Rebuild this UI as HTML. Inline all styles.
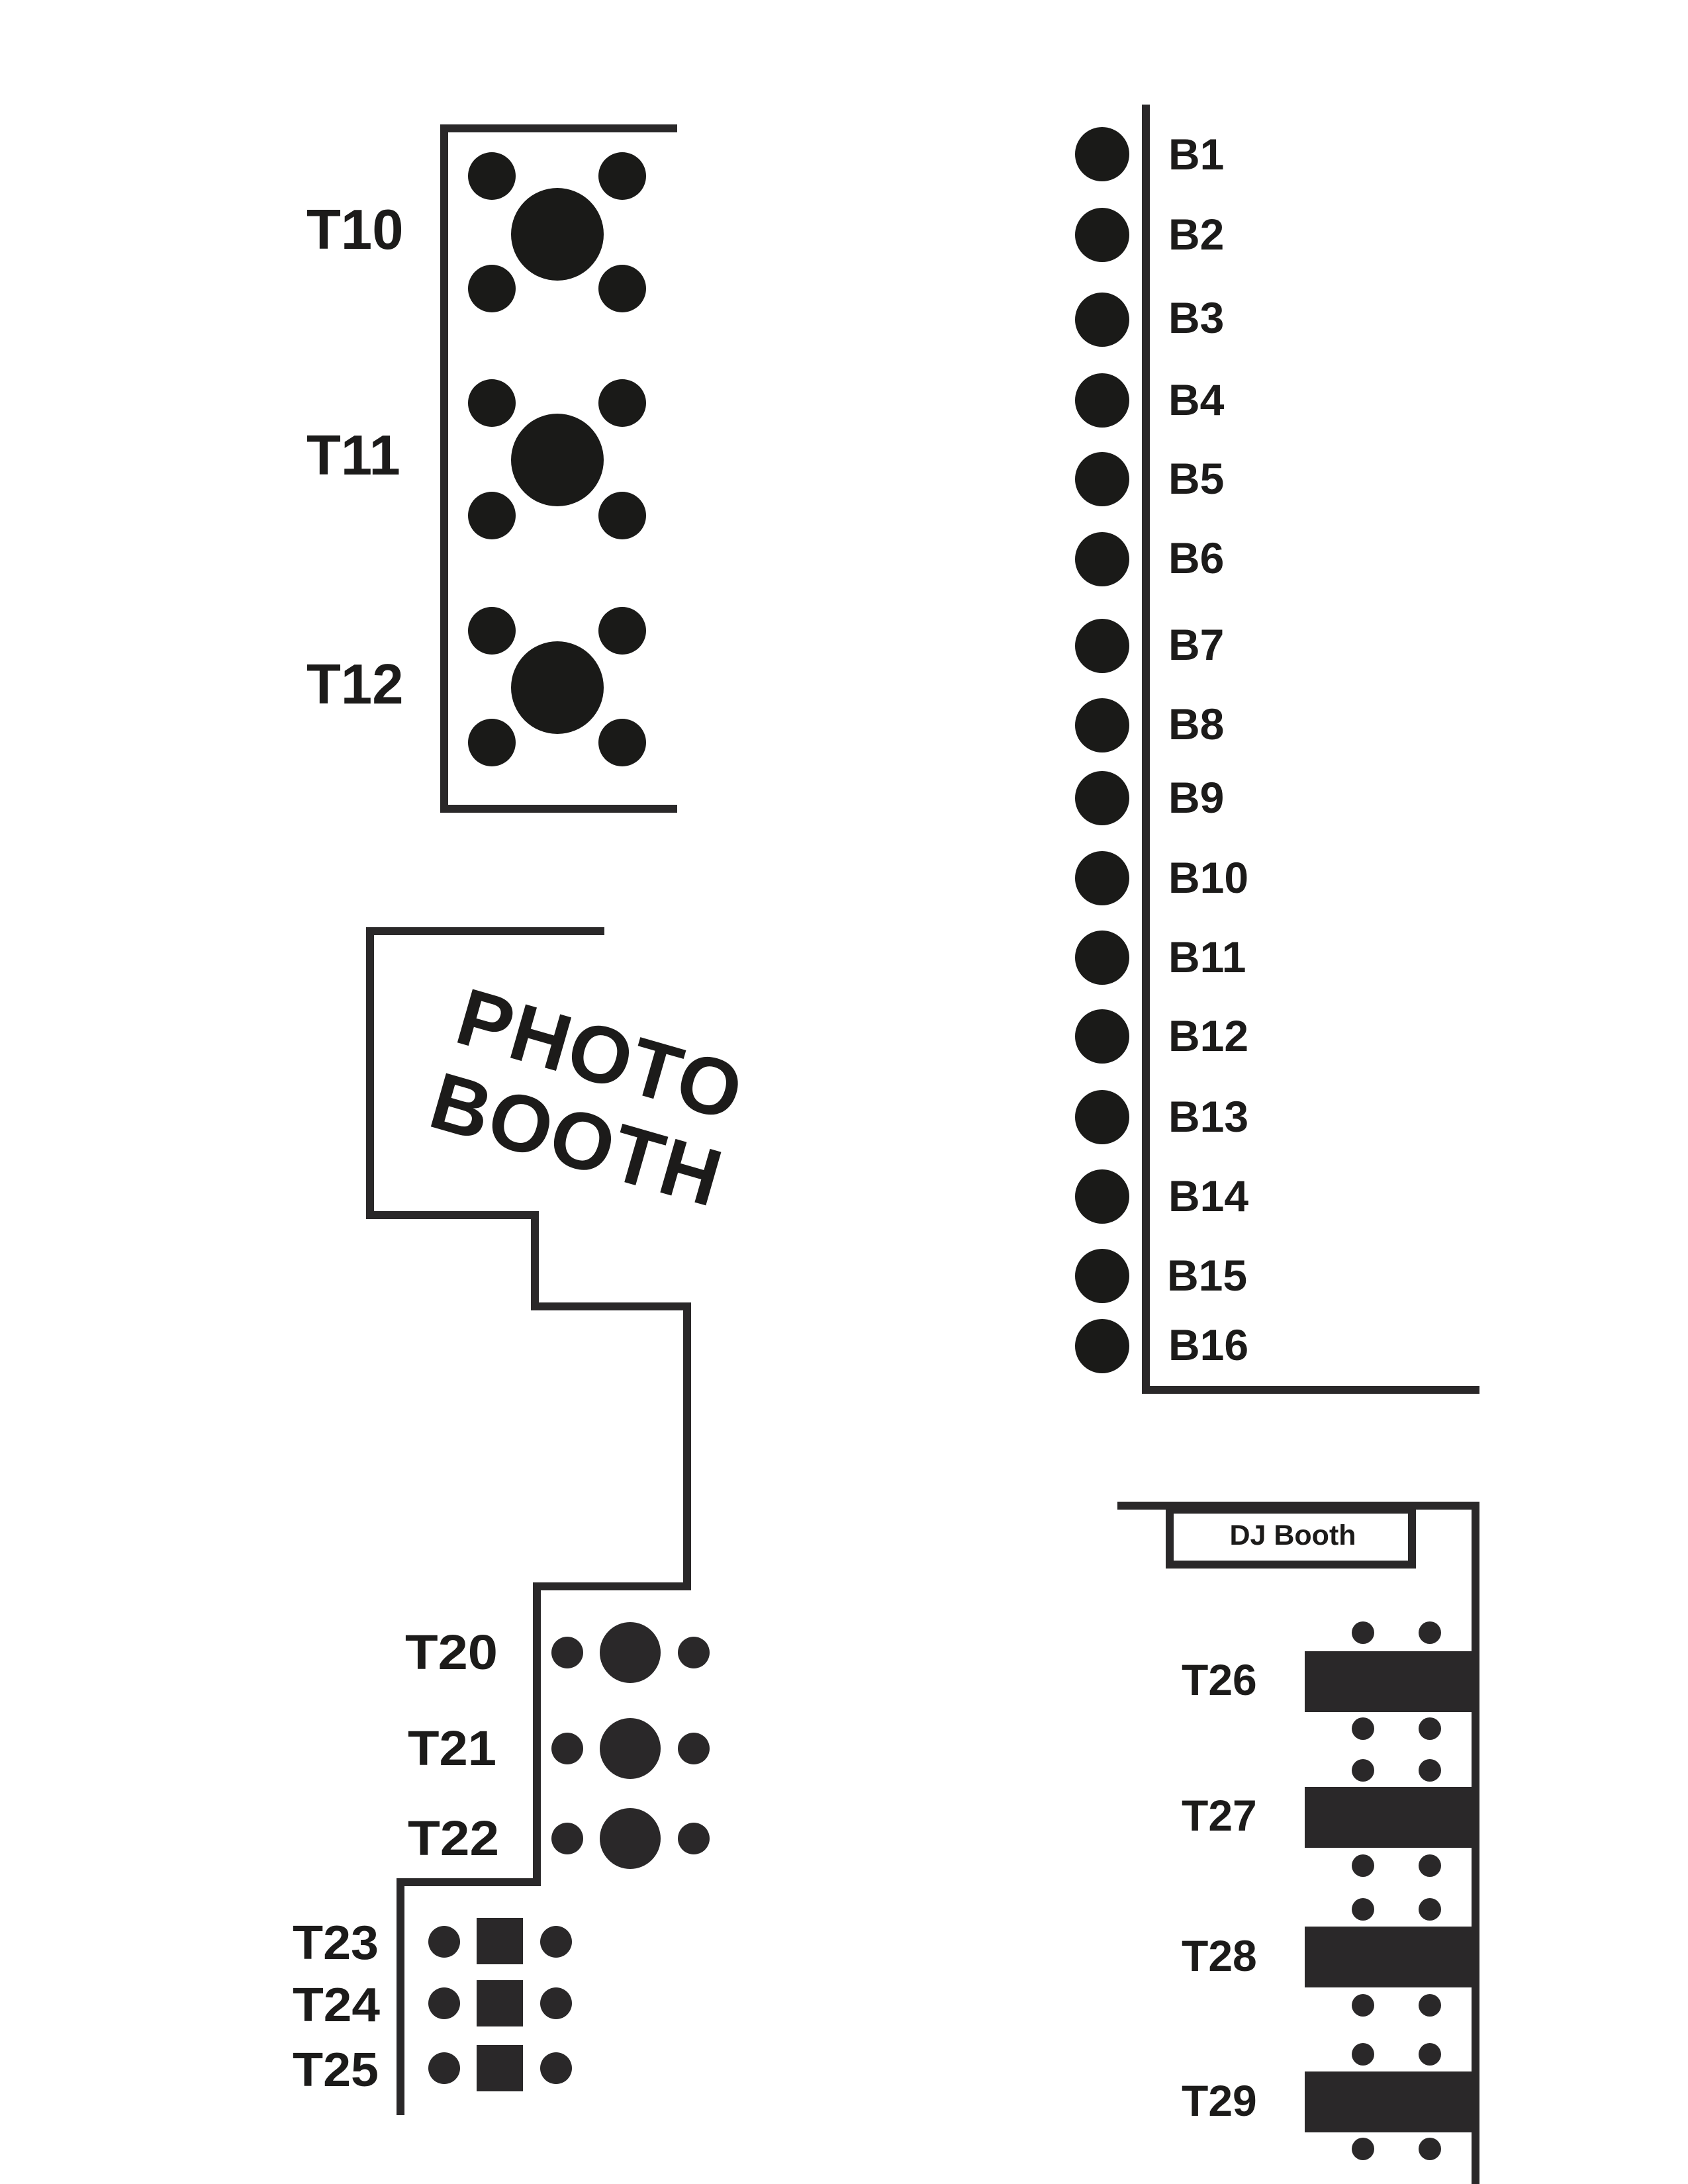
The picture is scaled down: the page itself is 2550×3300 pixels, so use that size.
<!DOCTYPE html>
<html><head><meta charset="utf-8"><style>
html,body{margin:0;padding:0;background:#fff;}
svg{display:block;}
text{font-family:"Liberation Sans",sans-serif;font-weight:bold;fill:#1c1b1a;}
</style></head><body>
<svg width="2550" height="3300" viewBox="0 0 2550 3300" xmlns="http://www.w3.org/2000/svg">
<g fill="none" stroke="#2a2829" stroke-width="12" stroke-linecap="butt">
  <polyline points="1023,194 671,194 671,1222 1023,1222"/>
  <polyline points="1731,158 1731,2100 2235,2100"/>
  <polyline points="913,1407 559,1407 559,1836 808,1836 808,1974 1038,1974 1038,2397 811,2397 811,2844 605,2844 605,3196"/>
  <polyline points="1688,2275 2229,2275 2229,3300"/>
  <rect x="1767" y="2281" width="366" height="83"/>
</g>
<g fill="#1a1a18">
  <circle cx="842" cy="354" r="70"/><circle cx="743" cy="266" r="36"/><circle cx="940" cy="266" r="36"/><circle cx="743" cy="436" r="36"/><circle cx="940" cy="436" r="36"/>
  <circle cx="842" cy="695" r="70"/><circle cx="743" cy="609" r="36"/><circle cx="940" cy="609" r="36"/><circle cx="743" cy="779" r="36"/><circle cx="940" cy="779" r="36"/>
  <circle cx="842" cy="1039" r="70"/><circle cx="743" cy="953" r="36"/><circle cx="940" cy="953" r="36"/><circle cx="743" cy="1122" r="36"/><circle cx="940" cy="1122" r="36"/>
  <circle cx="1665" cy="233" r="41"/><circle cx="1665" cy="355" r="41"/><circle cx="1665" cy="483" r="41"/><circle cx="1665" cy="605" r="41"/>
  <circle cx="1665" cy="724" r="41"/><circle cx="1665" cy="845" r="41"/><circle cx="1665" cy="976" r="41"/><circle cx="1665" cy="1096" r="41"/>
  <circle cx="1665" cy="1206" r="41"/><circle cx="1665" cy="1327" r="41"/><circle cx="1665" cy="1447" r="41"/><circle cx="1665" cy="1566" r="41"/>
  <circle cx="1665" cy="1688" r="41"/><circle cx="1665" cy="1808" r="41"/><circle cx="1665" cy="1928" r="41"/><circle cx="1665" cy="2034" r="41"/>
</g>
<g fill="#2a2829">
  <circle cx="857" cy="2497" r="24"/><circle cx="952" cy="2497" r="46"/><circle cx="1048" cy="2497" r="24"/>
  <circle cx="857" cy="2642" r="24"/><circle cx="952" cy="2642" r="46"/><circle cx="1048" cy="2642" r="24"/>
  <circle cx="857" cy="2778" r="24"/><circle cx="952" cy="2778" r="46"/><circle cx="1048" cy="2778" r="24"/>
  <circle cx="671" cy="2934" r="24"/><rect x="720" y="2898" width="70" height="70"/><circle cx="840" cy="2934" r="24"/>
  <circle cx="671" cy="3027" r="24"/><rect x="720" y="2992" width="70" height="70"/><circle cx="840" cy="3027" r="24"/>
  <circle cx="671" cy="3125" r="24"/><rect x="720" y="3090" width="70" height="70"/><circle cx="840" cy="3125" r="24"/>
  <rect x="1971" y="2495" width="258" height="92"/>
  <rect x="1971" y="2700" width="258" height="92"/>
  <rect x="1971" y="2911" width="258" height="92"/>
  <rect x="1971" y="3130" width="258" height="92"/>
  <circle cx="2059" cy="2467" r="17"/><circle cx="2160" cy="2467" r="17"/>
  <circle cx="2059" cy="2612" r="17"/><circle cx="2160" cy="2612" r="17"/>
  <circle cx="2059" cy="2675" r="17"/><circle cx="2160" cy="2675" r="17"/>
  <circle cx="2059" cy="2819" r="17"/><circle cx="2160" cy="2819" r="17"/>
  <circle cx="2059" cy="2885" r="17"/><circle cx="2160" cy="2885" r="17"/>
  <circle cx="2059" cy="3030" r="17"/><circle cx="2160" cy="3030" r="17"/>
  <circle cx="2059" cy="3104" r="17"/><circle cx="2160" cy="3104" r="17"/>
  <circle cx="2059" cy="3247" r="17"/><circle cx="2160" cy="3247" r="17"/>
</g>
<g font-size="85">
  <text x="463" y="376">T10</text>
  <text x="463" y="717">T11</text>
  <text x="463" y="1063">T12</text>
</g>
<g font-size="66">
  <text x="1765" y="256">B1</text><text x="1765" y="377">B2</text><text x="1765" y="503">B3</text><text x="1765" y="627">B4</text>
  <text x="1765" y="746">B5</text><text x="1765" y="866">B6</text><text x="1765" y="997">B7</text><text x="1765" y="1117">B8</text>
  <text x="1765" y="1228">B9</text><text x="1765" y="1349">B10</text><text x="1765" y="1469">B11</text><text x="1765" y="1588">B12</text>
  <text x="1765" y="1710">B13</text><text x="1765" y="1830">B14</text><text x="1763" y="1950">B15</text><text x="1765" y="2055">B16</text>
</g>
<g font-size="74">
  <text x="612" y="2522" textLength="140" lengthAdjust="spacingAndGlyphs">T20</text>
  <text x="616" y="2667" textLength="134" lengthAdjust="spacingAndGlyphs">T21</text>
  <text x="616" y="2803" textLength="138" lengthAdjust="spacingAndGlyphs">T22</text>
</g>
<g font-size="72">
  <text x="442" y="2960" textLength="130" lengthAdjust="spacingAndGlyphs">T23</text>
  <text x="442" y="3054" textLength="132" lengthAdjust="spacingAndGlyphs">T24</text>
  <text x="442" y="3152" textLength="130" lengthAdjust="spacingAndGlyphs">T25</text>
</g>
<g font-size="66">
  <text x="1785" y="2561">T26</text>
  <text x="1785" y="2766">T27</text>
  <text x="1785" y="2978">T28</text>
  <text x="1785" y="3197">T29</text>
</g>
<text x="1953" y="2334" font-size="43" text-anchor="middle">DJ Booth</text>
<g font-size="122" fill="#2a2829">
  <text x="683" y="1573" transform="rotate(16 683 1573)" letter-spacing="2">PHOTO</text>
  <text x="643" y="1700" transform="rotate(16 643 1700)" letter-spacing="2">BOOTH</text>
</g>
</svg>
</body></html>
